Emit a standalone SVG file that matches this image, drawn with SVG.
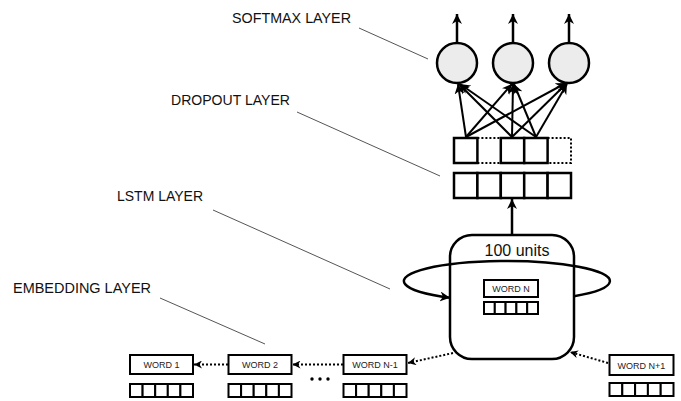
<svg xmlns="http://www.w3.org/2000/svg" width="681" height="401" viewBox="0 0 681 401">
<defs>
<marker id="ah" markerUnits="userSpaceOnUse" markerWidth="10" markerHeight="10" refX="10" refY="5" orient="auto" viewBox="0 0 10 10"><path d="M0,0 L10,5 L0,10 L3,5 z" fill="#000"/></marker>
<marker id="ahs" markerUnits="userSpaceOnUse" markerWidth="8" markerHeight="8" refX="10" refY="5" orient="auto" viewBox="0 0 10 10"><path d="M0,0 L10,5 L0,10 L3,5 z" fill="#000"/></marker>
</defs>
<style>
.lbl{font-family:"Liberation Sans",Arial,sans-serif;font-size:14.5px;fill:#111}
.lead{stroke:#555;stroke-width:1;fill:none}
.cell{fill:#fff;stroke:#000;stroke-width:2.5}
.wbox{fill:#fff;stroke:#000;stroke-width:2}
.wtxt{font-family:"Liberation Sans",Arial,sans-serif;font-size:9px;fill:#222;text-anchor:middle}
.node{fill:#ececec;stroke:#000;stroke-width:2.5}
.arr{stroke:#000;stroke-width:2.5;fill:none;marker-end:url(#ah)}
.syn{stroke:#000;stroke-width:2;fill:none;marker-end:url(#ah)}
.dot{stroke:#000;stroke-width:2;fill:none;stroke-dasharray:2 2}
.dotarr{stroke:#000;stroke-width:2;fill:none;stroke-dasharray:2 2;marker-end:url(#ahs)}
</style>
<rect width="681" height="401" fill="#fff"/>

<g id="labels">
<text class="lbl" x="232" y="23" textLength="119" lengthAdjust="spacingAndGlyphs">SOFTMAX LAYER</text>
<line class="lead" x1="359" y1="28" x2="428" y2="59"/>
<text class="lbl" x="171" y="105" textLength="119" lengthAdjust="spacingAndGlyphs">DROPOUT LAYER</text>
<line class="lead" x1="297" y1="112" x2="440" y2="176"/>
<text class="lbl" x="117" y="201" textLength="86" lengthAdjust="spacingAndGlyphs">LSTM LAYER</text>
<line class="lead" x1="213" y1="210" x2="390" y2="289"/>
<text class="lbl" x="13" y="293" textLength="138" lengthAdjust="spacingAndGlyphs">EMBEDDING LAYER</text>
<line class="lead" x1="160" y1="298" x2="265" y2="344"/>
</g>

<g id="softmax">
<circle class="node" cx="457" cy="63" r="20"/>
<circle class="node" cx="513" cy="63" r="20"/>
<circle class="node" cx="569" cy="63" r="20"/>
</g>

<g id="dropout">
<rect class="cell" x="454" y="138" width="23.4" height="25"/>
<rect class="cell" x="500.8" y="138" width="23.4" height="25"/>
<rect class="cell" x="524.2" y="138" width="23.4" height="25"/>
<path class="dot" d="M477.4,138 H500.8 M477.4,163 H500.8 M547.6,138 H571 V163 H547.6"/>
</g>

<g id="lstm-out">
<rect class="cell" x="454" y="173" width="23.4" height="25"/>
<rect class="cell" x="477.4" y="173" width="23.4" height="25"/>
<rect class="cell" x="500.8" y="173" width="23.4" height="25"/>
<rect class="cell" x="524.2" y="173" width="23.4" height="25"/>
<rect class="cell" x="547.6" y="173" width="23.4" height="25"/>
</g>

<g id="lstm">
<rect x="450" y="235" width="124" height="124" rx="22" fill="#fff" stroke="#000" stroke-width="2.5"/>
<text x="517" y="256" font-family="'Liberation Sans',Arial,sans-serif" font-size="16" fill="#111" text-anchor="middle">100 units</text>
<rect class="wbox" x="484" y="280" width="54" height="17"/>
<text class="wtxt" x="511" y="292">WORD N</text>
<g class="wbox">
<rect x="484" y="302" width="10.8" height="12"/><rect x="494.8" y="302" width="10.8" height="12"/><rect x="505.6" y="302" width="10.8" height="12"/><rect x="516.4" y="302" width="10.8" height="12"/><rect x="527.2" y="302" width="10.8" height="12"/>
</g>
<path d="M574,296.2 A103,20 0 1 0 450,297.7" stroke="#000" stroke-width="2.5" fill="none" marker-end="url(#ah)"/>
</g>

<g id="word1">
<rect class="wbox" x="130" y="355" width="63" height="19"/>
<text class="wtxt" x="161.5" y="368">WORD 1</text>
<g class="wbox"><rect x="130" y="384" width="12.6" height="13"/><rect x="142.6" y="384" width="12.6" height="13"/><rect x="155.2" y="384" width="12.6" height="13"/><rect x="167.8" y="384" width="12.6" height="13"/><rect x="180.4" y="384" width="12.6" height="13"/></g>
</g>
<g id="word2">
<rect class="wbox" x="228.5" y="355" width="63" height="19"/>
<text class="wtxt" x="260" y="368">WORD 2</text>
<g class="wbox"><rect x="228.5" y="384" width="12.6" height="13"/><rect x="241.1" y="384" width="12.6" height="13"/><rect x="253.7" y="384" width="12.6" height="13"/><rect x="266.3" y="384" width="12.6" height="13"/><rect x="278.9" y="384" width="12.6" height="13"/></g>
</g>
<g id="wordn-1">
<rect class="wbox" x="343.5" y="355" width="63" height="19"/>
<text class="wtxt" x="375" y="368">WORD N-1</text>
<g class="wbox"><rect x="343.5" y="384" width="12.6" height="13"/><rect x="356.1" y="384" width="12.6" height="13"/><rect x="368.7" y="384" width="12.6" height="13"/><rect x="381.3" y="384" width="12.6" height="13"/><rect x="393.9" y="384" width="12.6" height="13"/></g>
</g>
<g id="wordn+1">
<rect class="wbox" x="609.5" y="355" width="64" height="20"/>
<text class="wtxt" x="641.5" y="368.5">WORD N+1</text>
<g class="wbox"><rect x="609.5" y="383" width="12.8" height="13"/><rect x="622.3" y="383" width="12.8" height="13"/><rect x="635.1" y="383" width="12.8" height="13"/><rect x="647.9" y="383" width="12.8" height="13"/><rect x="660.7" y="383" width="12.8" height="13"/></g>
</g>
<g id="ellipsis" fill="#000">
<circle cx="312" cy="379" r="1.7"/><circle cx="320" cy="379" r="1.7"/><circle cx="328" cy="379" r="1.7"/>
</g>

<g id="connectors">
<line class="arr" x1="457" y1="43" x2="457" y2="14"/>
<line class="arr" x1="513" y1="43" x2="513" y2="14"/>
<line class="arr" x1="569" y1="43" x2="569" y2="14"/>
<line class="syn" x1="466" y1="137" x2="458" y2="84"/>
<line class="syn" x1="466" y1="137" x2="512" y2="84"/>
<line class="syn" x1="466" y1="137" x2="566" y2="83"/>
<line class="syn" x1="512" y1="137" x2="459" y2="84"/>
<line class="syn" x1="512" y1="137" x2="513" y2="84"/>
<line class="syn" x1="512" y1="137" x2="567" y2="83"/>
<line class="syn" x1="536" y1="137" x2="460" y2="84"/>
<line class="syn" x1="536" y1="137" x2="514" y2="84"/>
<line class="syn" x1="536" y1="137" x2="567" y2="84"/>
<line class="arr" x1="512" y1="235" x2="512" y2="199"/>
<line class="dotarr" x1="453" y1="353" x2="408" y2="363"/>
<line class="dotarr" x1="608" y1="363" x2="570" y2="352"/>
<line class="dotarr" x1="343" y1="364.5" x2="292.5" y2="364.5"/>
<line class="dotarr" x1="228" y1="364.5" x2="194" y2="364.5"/>
</g>
</svg>
